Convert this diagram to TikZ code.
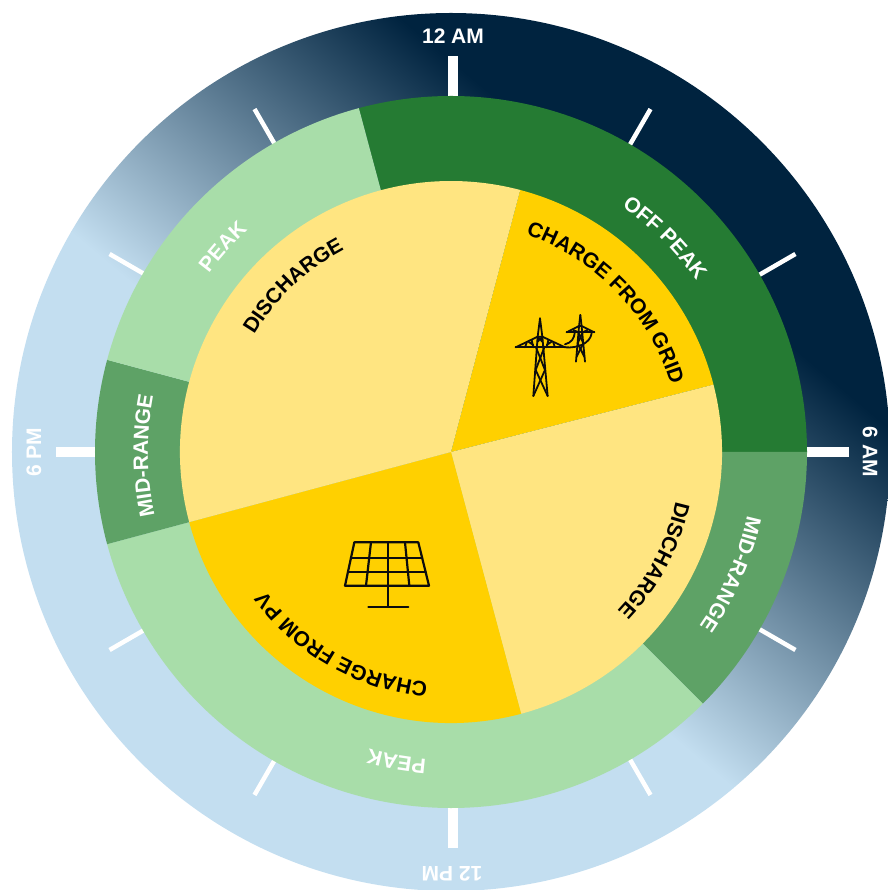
\documentclass[tikz,border=0pt]{standalone}
\usepackage{fontspec}
\setmainfont{Liberation Sans}
\usetikzlibrary{decorations.text}
\definecolor{navyc}{HTML}{00233F}
\definecolor{skyc}{HTML}{C3DEF0}
\definecolor{offc}{HTML}{257B33}
\definecolor{midc}{HTML}{5EA266}
\definecolor{peakc}{HTML}{A8DDA9}
\definecolor{paleY}{HTML}{FFE581}
\definecolor{goldY}{HTML}{FFD000}
\newcommand{\rlabel}[1]{\fontsize{21pt}{21pt}\selectfont\bfseries #1}
\newcommand{\ringseg}[3]{\fill[#1] (#2:356pt) arc[start angle=#2,end angle=#3,radius=356pt] -- (0,0) -- cycle;}
\newcommand{\pieseg}[3]{\fill[#1] (#2:271pt) arc[start angle=#2,end angle=#3,radius=271pt] -- (0,0) -- cycle;}
% #1 color, #2 middle angle, #3 baseline radius, #4 text
\newcommand{\arctext}[4]{\path[decorate,decoration={text along path,text color=#1,text align=center,
   text={|\rlabel|#4}}] (#2+50:#3pt) arc[start angle=#2+50,end angle=#2-50,radius=#3pt];}
\tikzset{
  majortick/.style={draw=white,line width=10pt},
  minortick/.style={draw=white,line width=4.5pt},
  timelabel/.style={text=white,font=\rlabel,inner sep=0pt},
  iconline/.style={draw=black!95,line cap=round,line join=round}
}
\begin{document}
\begin{tikzpicture}[x=1pt,y=1pt]
\useasboundingbox (-451,-438) rectangle (436,452);
% outer disc with gradient
\begin{scope}
  \clip (0,0) circle[radius=439pt];
  \begin{scope}[transform canvas={rotate around={-40:(0,0)}}]
    \fill[skyc] (-700,-700) rectangle (700,-75);
    \fill[navyc] (-700,299) rectangle (700,700);
    \shade[bottom color=skyc,top color=navyc] (-700,-76) rectangle (700,300);
  \end{scope}
\end{scope}
% ticks
\begin{scope}[shift={(1.5,0)}]
\foreach \a in {90,0,180,270}{\draw[majortick] (\a:350pt) -- (\a:396pt);}
\foreach \a in {30,60,120,150,210,240,300,330}{\draw[minortick] (\a:350pt) -- (\a:396pt);}
\end{scope}
% tariff ring
\ringseg{offc}{105}{0}
\ringseg{midc}{0}{-45}
\ringseg{peakc}{-45}{-165}
\ringseg{midc}{195}{165}
\ringseg{peakc}{165}{105}
% battery pie
\pieseg{goldY}{75.2}{14.4}
\pieseg{paleY}{14.4}{-75}
\pieseg{goldY}{-75}{-165}
\pieseg{paleY}{195}{75.2}
% time labels
\node[timelabel] (am12) at (2,416) {12 AM};
\node[timelabel,rotate=-90] (am6) at (419,0) {6 AM};
\node[timelabel,rotate=180] (pm12) at (1,-422) {12 PM};
\node[timelabel,rotate=90] (pm6) at (-417,0) {6 PM};
% curved labels
\arctext{white}{45}{299}{OFF PEAK}
\arctext{white}{-23.5}{303}{MID-RANGE}
\arctext{white}{260}{308}{PEAK}
\arctext{white}{180.7}{303}{MID-RANGE}
\arctext{white}{138}{301}{PEAK}
\arctext{black}{44}{230}{CHARGE FROM GRID}
\arctext{black}{-28}{230}{DISCHARGE}
\arctext{black}{240.5}{232}{CHARGE FROM PV}
\arctext{black}{133.5}{229}{DISCHARGE}
% pylons
\begin{scope}[shift={(49,152)},x=0.3333pt,y=-0.3333pt,iconline,line width=1.8pt]
  \draw (120,55) -- (113,110) -- (100,288);
  \draw (120,55) -- (127,110) -- (143,288);
  \draw (47,142) -- (195,142);
  \draw (47,142) -- (113,110) -- (127,110) -- (195,142);
  \draw (108,142) -- (135,210) -- (100,288);
  \draw (133,142) -- (107,210) -- (143,288);
  \draw (113,110) -- (127,125) -- (127,110) -- (113,125) -- cycle;
  \draw (80,128) -- (75,142) (95,120) -- (100,142) (85,125)--(100,135);
  \draw (160,128) -- (165,142) (145,120) -- (140,142) (155,125)--(140,135);
  \draw (195,133) .. controls (215,128) and (222,115) .. (224,100);
  \draw (195,142) .. controls (235,145) and (270,130) .. (275,100);
  \draw (241,45) -- (237,80) -- (228,185);
  \draw (241,45) -- (245,80) -- (255,185);
  \draw (200,97) -- (283,97);
  \draw (200,97) -- (237,78) -- (245,78) -- (283,97);
  \draw (235,97) -- (250,130) -- (230,170);
  \draw (248,97) -- (233,130) -- (253,170);
  \draw (220,90) -- (235,97) (262,90) -- (248,97);
\end{scope}
% solar panel
\begin{scope}[shift={(-121,-78)},x=0.3333pt,y=-0.3333pt,iconline,line width=2.2pt]
  \draw (73,37) -- (265,37) -- (297,167) -- (45,167) -- cycle;
  \draw (63,85) -- (276,85);
  \draw (54,127) -- (287,127);
  \draw (123,37) -- (108,167);
  \draw (175,37) -- (175,230);
  \draw (225,37) -- (238,167);
  \draw (115,230) -- (235,230);
\end{scope}
\end{tikzpicture}
\end{document}
